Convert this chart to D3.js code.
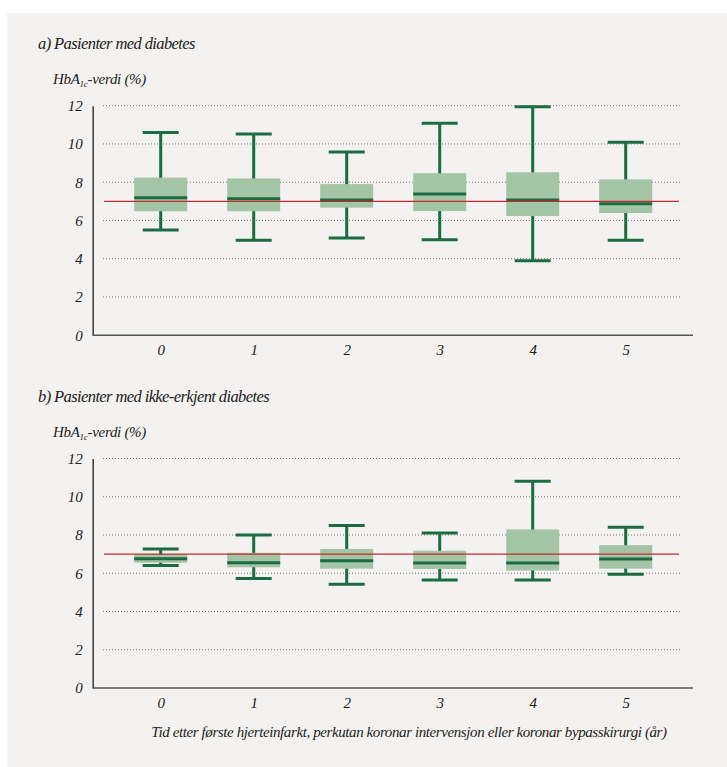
<!DOCTYPE html>
<html>
<head>
<meta charset="utf-8">
<script src="https://cdn.jsdelivr.net/npm/d3@7"></script>
<style>
body{margin:0;background:#fff;}
text{font-family:"Liberation Serif",serif;font-style:italic;fill:#222;}
</style>
</head>
<body>
<script>
// data
var years = [0, 1, 2, 3, 4, 5];
var yTicks = [0, 2, 4, 6, 8, 10, 12];
// panel a) diabetes
var aLow  = [5.5, 4.97, 5.08, 4.99, 3.89, 4.97];
var aQ1   = [6.48, 6.48, 6.67, 6.49, 6.23, 6.39];
var aMed  = [7.19, 7.14, 7.07, 7.38, 7.07, 6.87];
var aQ3   = [8.24, 8.2, 7.9, 8.47, 8.52, 8.15];
var aHigh = [10.6, 10.52, 9.58, 11.08, 11.94, 10.09];
// panel b) unknown diabetes
var bLow  = [6.4, 5.72, 5.43, 5.65, 5.65, 5.95];
var bQ1   = [6.55, 6.31, 6.24, 6.22, 6.14, 6.24];
var bMed  = [6.76, 6.55, 6.66, 6.54, 6.54, 6.74];
var bQ3   = [6.99, 7.07, 7.27, 7.18, 8.29, 7.47];
var bHigh = [7.27, 8.0, 8.5, 8.1, 10.81, 8.41];
var target = 7;

var W = 727, H = 767;
var green = "#1b6b43", boxFill = "#a3c4a5";

var svg = d3.select("body").append("svg")
    .attr("width", W).attr("height", H);

svg.append("rect")
    .attr("x", 7).attr("y", 13)
    .attr("width", W - 7).attr("height", H - 13)
    .attr("fill", "#f3f2f0");

var x = d3.scalePoint().domain(years).range([160.7, 625.7]);

function panel(title, top, low, q1, med, q3, high) {
    var y = d3.scaleLinear().domain([0, 12]).range([top + 229.5, top]);
    var g = svg.append("g");

    g.append("text").attr("x", 38).attr("y", top - 57)
        .style("font-size", "16.5px").style("letter-spacing", "-0.6px").text(title);

    var lab = g.append("text").attr("x", 53).attr("y", top - 22)
        .style("font-size", "15px").style("letter-spacing", "-0.3px");
    lab.append("tspan").text("HbA");
    lab.append("tspan").attr("dy", 3).style("font-size", "9px").text("1c");
    lab.append("tspan").attr("dy", -3).text("-verdi (%)");

    // dotted grid
    g.selectAll(".grid").data(yTicks.filter(function(d){return d > 0;}))
        .enter().append("line")
        .attr("x1", 103).attr("x2", 680)
        .attr("y1", function(d){return y(d);}).attr("y2", function(d){return y(d);})
        .attr("stroke", "#777").attr("stroke-width", 1)
        .attr("stroke-dasharray", "1,2");

    // axes
    var ya = g.append("g").attr("transform", "translate(92.7,0)")
        .call(d3.axisLeft(y).tickValues(yTicks).tickSize(0).tickPadding(10));
    ya.select(".domain").attr("stroke", "#444").attr("stroke-width", 1.6);
    ya.selectAll("text").style("font-size", "15px")
        .attr("font-family", null).attr("fill", "#222");

    var xa = g.append("g").attr("transform", "translate(0," + y(0) + ")")
        .call(d3.axisBottom(x).tickSize(0).tickPadding(9));
    xa.select(".domain").attr("d", "M92.7,0H693").attr("stroke", "#555").attr("stroke-width", 1.6);
    xa.selectAll("text").style("font-size", "15px")
        .attr("font-family", null).attr("fill", "#222");

    var bw = 53, cw = 36;
    var b = g.selectAll(".box").data(years).enter().append("g");
    b.append("line")
        .attr("x1", function(d){return x(d);}).attr("x2", function(d){return x(d);})
        .attr("y1", function(d,i){return y(high[i]);})
        .attr("y2", function(d,i){return y(low[i]);})
        .attr("stroke", green).attr("stroke-width", 3);
    b.append("rect")
        .attr("x", function(d){return x(d) - bw/2;})
        .attr("y", function(d,i){return y(q3[i]);})
        .attr("width", bw)
        .attr("height", function(d,i){return y(q1[i]) - y(q3[i]);})
        .attr("fill", boxFill);
    [high, low].forEach(function(arr){
        b.append("line")
            .attr("x1", function(d){return x(d) - cw/2;})
            .attr("x2", function(d){return x(d) + cw/2;})
            .attr("y1", function(d,i){return y(arr[i]);})
            .attr("y2", function(d,i){return y(arr[i]);})
            .attr("stroke", green).attr("stroke-width", 3);
    });
    b.append("line")
        .attr("x1", function(d){return x(d) - bw/2;})
        .attr("x2", function(d){return x(d) + bw/2;})
        .attr("y1", function(d,i){return y(med[i]);})
        .attr("y2", function(d,i){return y(med[i]);})
        .attr("stroke", green).attr("stroke-width", 3);

    // target line
    g.append("line")
        .attr("x1", 104).attr("x2", 679)
        .attr("y1", y(target)).attr("y2", y(target))
        .attr("stroke", "#c42a2a").attr("stroke-width", 1.3);
}

panel("a) Pasienter med diabetes", 105.7, aLow, aQ1, aMed, aQ3, aHigh);
panel("b) Pasienter med ikke-erkjent diabetes", 458.5, bLow, bQ1, bMed, bQ3, bHigh);

svg.append("text").attr("x", 409).attr("y", 737)
    .attr("text-anchor", "middle").style("font-size", "15px").style("letter-spacing", "-0.4px")
    .text("Tid etter første hjerteinfarkt, perkutan koronar intervensjon eller koronar bypasskirurgi (år)");
</script>
</body>
</html>
